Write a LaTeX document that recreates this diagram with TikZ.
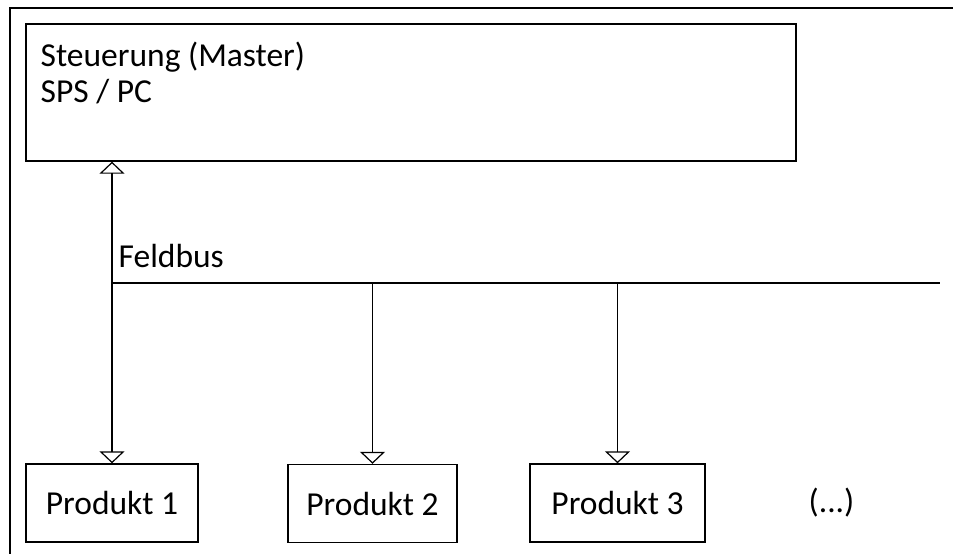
\documentclass[tikz,border=0pt]{standalone}
\usepackage{fontspec}
\setmainfont{Carlito}
\usetikzlibrary{arrows.meta}
\begin{document}
\begin{tikzpicture}[x=1pt,y=-1pt,
  line width=1.4pt,
  >={Triangle[open, width=25pt, length=12pt, line width=1.2pt]},
  txt/.style={inner sep=0pt, font=\fontsize{33.5}{40}\selectfont},
  box/.style={draw, rectangle, minimum height=78pt, inner sep=0pt, font=\fontsize{33.5}{40}\selectfont}]
\useasboundingbox (0,0) rectangle (953,554);
\draw (10,554) -- (10,8) -- (953,8);
\node[draw, rectangle, minimum width=770pt, minimum height=137pt, inner sep=0pt] (master) at (411,92.5) {};
\node[txt, anchor=base west] (mlabelA) at (40,66) {Steuerung (Master)};
\node[txt, anchor=base west] (mlabelB) at (40,102.5) {SPS / PC};
\node[box, minimum width=172pt] (p1) at (112,503) {Produkt 1};
\node[box, minimum width=169pt] (p2) at (372.5,503.5) {Produkt 2};
\node[box, minimum width=175pt] (p3) at (617.5,503) {Produkt 3};
\node[txt, anchor=base] (more) at (831.5,512) {(...)};
\coordinate (busL) at (112,283);
\coordinate (busR) at (940,283);
\draw (busL) -- (busR);
\node[txt, anchor=base west] (feld) at (118,267) {Feldbus};
\draw[<->] (p1.north |- master.south) -- (p1.north);
\draw[->] (p2.north |- busL) -- (p2.north);
\draw[->] (p3.north |- busL) -- (p3.north);
\end{tikzpicture}
\end{document}
